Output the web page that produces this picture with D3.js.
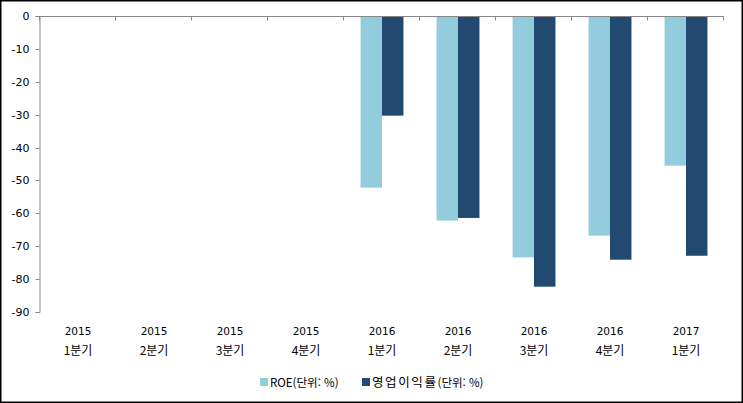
<!DOCTYPE html>
<html lang="ko">
<head>
<meta charset="UTF-8">
<title>ROE / 영업이익률</title>
<style>
    body { margin: 0; background: #fff; }
    svg { display: block; }
    text { font-family: "Noto Sans CJK KR", "DejaVu Sans", sans-serif; font-size: 11px; fill: #000; }
    .num { font-family: "DejaVu Sans", sans-serif; font-size: 10.5px; }
</style>
</head>
<body>
<svg class="chart"></svg>
<script src="https://cdnjs.cloudflare.com/ajax/libs/d3/7.8.5/d3.min.js"></script>
<script>

const years = ["2015", "2015", "2015", "2015", "2016", "2016", "2016", "2016", "2017"];
const quarters = ["1분기", "2분기", "3분기", "4분기", "1분기", "2분기", "3분기", "4분기", "1분기"];
const roe = [null, null, null, null, -52.2, -62.2, -73.4, -66.8, -45.5];
const opMargin = [null, null, null, null, -30.3, -61.4, -82.3, -74.1, -72.9];
const seriesNames = [["ROE", "(단위: %)"], ["영업이익률", "(단위: %)"]];
const colors = ["#93cddd", "#224a71"];
const yTicks = [0, -10, -20, -30, -40, -50, -60, -70, -80, -90];

const width = 743, height = 403;
const margin = { top: 16, left: 40, right: 19, bottom: 91 };
const axisColor = "#868686";

const svg = d3.select("svg")
    .attr("width", width)
    .attr("height", height);

svg.append("rect")
    .attr("x", 0.75).attr("y", 0.75)
    .attr("width", width - 1.5).attr("height", height - 1.5)
    .attr("fill", "#fff")
    .attr("stroke", "#000")
    .attr("stroke-width", 1.5);

const cats = d3.range(years.length);

const x = d3.scaleBand()
    .domain(cats)
    .range([margin.left, width - margin.right]);

const inner = d3.scaleBand()
    .domain([0, 1])
    .range([0, x.bandwidth()])
    .paddingOuter(0.77)
    .paddingInner(0);

const y = d3.scaleLinear()
    .domain([0, -90])
    .range([margin.top, height - margin.bottom]);

// bars
const series = [roe, opMargin];
series.forEach((vals, s) => {
    svg.append("g")
        .selectAll("rect")
        .data(cats.filter(i => vals[i] !== null))
        .join("rect")
        .attr("x", i => x(i) + inner(s))
        .attr("width", inner.bandwidth())
        .attr("y", y(0))
        .attr("height", i => y(vals[i]) - y(0))
        .attr("fill", colors[s]);
});

// y axis
const yAxis = svg.append("g")
    .attr("transform", `translate(${margin.left - 0.5},0)`)
    .call(d3.axisLeft(y).tickValues(yTicks).tickSize(4).tickSizeOuter(4).tickPadding(6)
        .tickFormat(d => d === 0 ? "0" : "-" + Math.abs(d)));
yAxis.select(".domain").attr("stroke", axisColor).attr("stroke-width", 1);
yAxis.selectAll(".tick line").attr("stroke", axisColor);
yAxis.selectAll("text").attr("class", "num").style("font-size", "11px");
yAxis.selectAll(".tick").attr("transform", d => `translate(0,${Math.round(y(d)) + 0.5})`);

// x axis at zero
const xAxis = svg.append("g")
    .attr("transform", `translate(0,${Math.round(y(0)) + 0.5})`);
xAxis.append("line")
    .attr("x1", margin.left - 0.5).attr("x2", width - margin.right)
    .attr("stroke", axisColor);
xAxis.selectAll(".tk")
    .data(d3.range(years.length + 1))
    .join("line")
    .attr("x1", i => Math.round(margin.left + i * x.step()) - 0.5)
    .attr("x2", i => Math.round(margin.left + i * x.step()) - 0.5)
    .attr("y1", 0).attr("y2", 4)
    .attr("stroke", axisColor);

// category labels
const labels = svg.append("g");
labels.selectAll(".yr")
    .data(cats)
    .join("text")
    .attr("class", "num")
    .attr("x", i => x(i) + x.bandwidth() / 2)
    .attr("y", 335)
    .attr("text-anchor", "middle")
    .text(i => years[i]);
labels.selectAll(".qt")
    .data(cats)
    .join("text")
    .attr("x", i => x(i) + x.bandwidth() / 2)
    .attr("y", 355)
    .attr("text-anchor", "middle")
    .style("font-size", "12px")
    .text(i => quarters[i]);

// legend
const legendX = [260, 362];
const legend = svg.append("g")
    .selectAll("g")
    .data(seriesNames)
    .join("g")
    .attr("transform", (d, i) => `translate(${legendX[i]},382)`);
legend.append("rect")
    .attr("x", 0).attr("y", -4)
    .attr("width", 8).attr("height", 8)
    .attr("fill", (d, i) => colors[i]);
const legendText = legend.append("text")
    .attr("x", 10)
    .attr("y", 4.5)
    .style("font-size", "11.5px");
legendText.append("tspan")
    .style("letter-spacing", (d, i) => i === 1 ? "1.6px" : "0px")
    .style("font-size", (d, i) => i === 1 ? "12.5px" : "11.5px")
    .text(d => d[0]);
legendText.append("tspan")
    .text(d => d[1]);

</script>
</body>
</html>
